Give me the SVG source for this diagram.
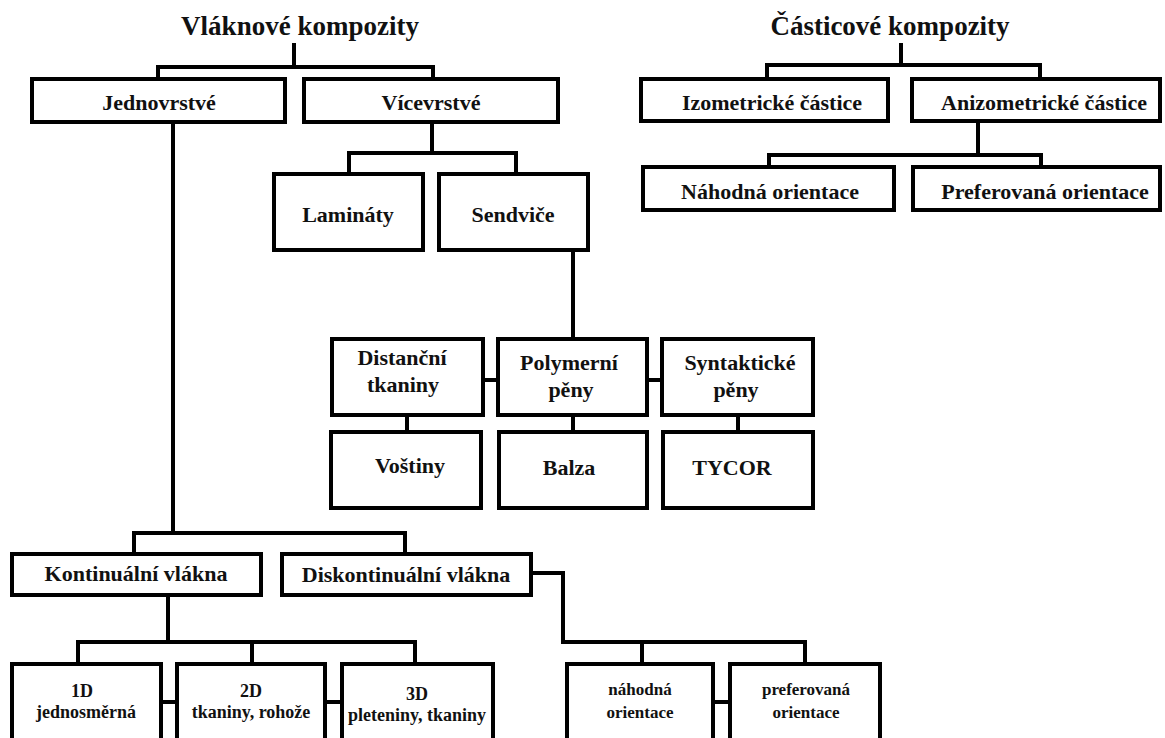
<svg xmlns="http://www.w3.org/2000/svg" width="1165" height="738" viewBox="0 0 1165 738">
<style>
.box{fill:#fff;stroke:#000;stroke-width:4}
.c{fill:none;stroke:#000;stroke-width:4}
text{font-family:"Liberation Serif","Times New Roman",serif;font-weight:bold;fill:#111;text-anchor:middle;font-size:22px}
.title{font-size:27px}
.s{font-size:18px}
.xs{font-size:17px}
</style>
<rect width="1165" height="738" fill="#fff"/>
<g id="connectors" class="c">
<path d="M294 43V67M158 79V67H433V79"/>
<path d="M432 122V153M349 174V153H516V174"/>
<path d="M573 250V339"/>
<path d="M483 380H498M647 380H662"/>
<path d="M407 415V432M573 415V432M738 415V432"/>
<path d="M173 122V533M134 554V533H405V554"/>
<path d="M168 595V642M78 664V642H415V664M252 642V664"/>
<path d="M161 702H177M325 702H342"/>
<path d="M531 573H563V642H805V664M642 642V664"/>
<path d="M713 702H730"/>
<path d="M901 43V65M767 79V65H1040V79"/>
<path d="M978 121V155M769 167V155H1041V167"/>
</g>
<g id="title-vlaknove"><text class="title" x="300" y="35">Vláknové kompozity</text></g>
<g id="title-casticove"><text class="title" x="890" y="35">Částicové kompozity</text></g>
<g id="jednovrstve"><rect class="box" x="32" y="79" width="253" height="43"/><text x="159" y="110">Jednovrstvé</text></g>
<g id="vicevrstve"><rect class="box" x="304" y="79" width="254" height="43"/><text x="431" y="110">Vícevrstvé</text></g>
<g id="laminaty"><rect class="box" x="274" y="174" width="149" height="76"/><text x="348" y="222">Lamináty</text></g>
<g id="sendvice"><rect class="box" x="439" y="174" width="149" height="76"/><text x="513" y="222">Sendviče</text></g>
<g id="distancni"><rect class="box" x="332" y="339" width="151" height="76"/><text x="402" y="365">Distanční</text><text x="403" y="392">tkaniny</text></g>
<g id="polymerni"><rect class="box" x="498" y="339" width="149" height="76"/><text x="569" y="370">Polymerní</text><text x="571" y="397">pěny</text></g>
<g id="syntakticke"><rect class="box" x="662" y="339" width="151" height="76"/><text x="740" y="370">Syntaktické</text><text x="736" y="397">pěny</text></g>
<g id="vostiny"><rect class="box" x="331" y="432" width="150" height="76"/><text x="410" y="473">Voštiny</text></g>
<g id="balza"><rect class="box" x="499" y="432" width="148" height="76"/><text x="569" y="475">Balza</text></g>
<g id="tycor"><rect class="box" x="663" y="432" width="150" height="76"/><text x="732" y="475">TYCOR</text></g>
<g id="kontinualni"><rect class="box" x="12" y="554" width="249" height="41"/><text x="136" y="581">Kontinuální vlákna</text></g>
<g id="diskontinualni"><rect class="box" x="282" y="554" width="249" height="41"/><text x="406" y="582">Diskontinuální vlákna</text></g>
<g id="d1"><rect class="box" x="12" y="664" width="149" height="100"/><text class="s" x="82" y="697">1D</text><text class="s" x="86" y="718">jednosměrná</text></g>
<g id="d2"><rect class="box" x="177" y="664" width="148" height="100"/><text class="s" x="251" y="697">2D</text><text class="s" x="251" y="718">tkaniny, rohože</text></g>
<g id="d3"><rect class="box" x="342" y="664" width="151" height="100"/><text class="s" x="417" y="700">3D</text><text class="s" x="417" y="721">pleteniny, tkaniny</text></g>
<g id="nahodna-vl"><rect class="box" x="567" y="664" width="146" height="100"/><text class="xs" x="640" y="695">náhodná</text><text class="xs" x="640" y="718">orientace</text></g>
<g id="preferovana-vl"><rect class="box" x="730" y="664" width="150" height="100"/><text class="xs" x="806" y="695">preferovaná</text><text class="xs" x="806" y="718">orientace</text></g>
<g id="izometricke"><rect class="box" x="641" y="79" width="247" height="42"/><text x="772" y="110">Izometrické částice</text></g>
<g id="anizometricke"><rect class="box" x="912" y="79" width="248" height="42"/><text x="1044" y="110">Anizometrické částice</text></g>
<g id="nahodna"><rect class="box" x="643" y="167" width="251" height="43"/><text x="770" y="199">Náhodná orientace</text></g>
<g id="preferovana"><rect class="box" x="913" y="167" width="247" height="43"/><text x="1045" y="199">Preferovaná orientace</text></g>
</svg>
